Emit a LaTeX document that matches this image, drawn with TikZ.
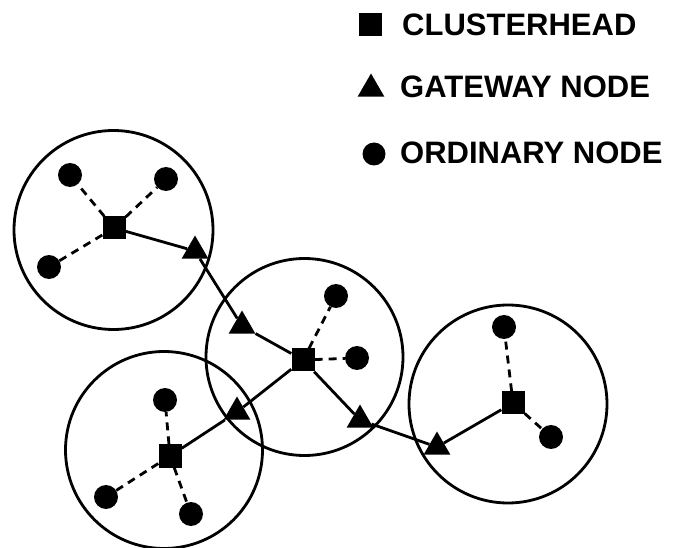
\documentclass[tikz,border=0pt]{standalone}
\usepackage{fontspec}
\setmainfont{Liberation Sans}
\usetikzlibrary{shapes.geometric}
\begin{document}
\begin{tikzpicture}[x=1pt,y=-1pt,
  headbox/.style={rectangle,fill=black,minimum size=23pt,inner sep=0pt},
  gatebox/.style={regular polygon,regular polygon sides=3,fill=black,minimum size=31pt,inner sep=0pt},
  ordbox/.style={circle,fill=black,minimum size=24pt,inner sep=0pt},
  cluster/.style={circle,draw,line width=2.8pt,inner sep=0pt},
  link/.style={line width=2.8pt},
  dlink/.style={line width=2.8pt,dash pattern=on 8pt off 6pt},
  legendtext/.style={anchor=base west,inner sep=0pt,font=\fontsize{31}{31}\selectfont\bfseries}]
\useasboundingbox (0,0) rectangle (673,548);

% legend
\node[headbox] (lh) at (370,25) {};
\node[legendtext] (lht) at (402,36) {CLUSTERHEAD};
\node[gatebox] (lg) at (371,89) {};
\node[legendtext] (lgt) at (400,98) {GATEWAY NODE};
\node[ordbox,minimum size=23pt] (lo) at (374,154) {};
\node[legendtext] (lot) at (400,164) {ORDINARY NODE};

% cluster circles
\node[cluster,minimum size=199pt] (c1) at (113.5,230) {};
\node[cluster,minimum size=197pt] (c2) at (304.5,357) {};
\node[cluster,minimum size=197pt] (c3) at (164,450) {};
\node[cluster,minimum size=198pt] (c4) at (508,404) {};

% clusterheads
\node[headbox] (s1) at (114,228) {};
\node[headbox] (s2) at (303,360) {};
\node[headbox] (s3) at (170,456) {};
\node[headbox] (s4) at (513,403) {};

% gateways
\node[gatebox] (t1) at (195,251) {};
\node[gatebox] (t2) at (242,326) {};
\node[gatebox] (t3) at (237,412) {};
\node[gatebox] (t4) at (360,420) {};
\node[gatebox] (t5) at (437,447) {};

% ordinary nodes
\node[ordbox] (o11) at (70,175) {};
\node[ordbox] (o12) at (166,179) {};
\node[ordbox] (o13) at (49,267) {};
\node[ordbox] (o21) at (336,296) {};
\node[ordbox] (o22) at (357,358) {};
\node[ordbox] (o31) at (165,400) {};
\node[ordbox] (o32) at (106,497) {};
\node[ordbox] (o33) at (191,514) {};
\node[ordbox] (o41) at (504,327) {};
\node[ordbox] (o42) at (551,437) {};

% links
\draw[link] (s1) -- (t1) -- (t2) -- (s2) -- (t3) -- (s3);
\draw[link] (s2) -- (t4) -- (t5) -- (s4);

% dashed links
\foreach \a/\b in {s1/o11,s1/o12,s1/o13,s2/o21,s2/o22,s3/o31,s3/o32,s3/o33,s4/o41,s4/o42}
  \draw[dlink] (\a) -- (\b);
\end{tikzpicture}
\end{document}
